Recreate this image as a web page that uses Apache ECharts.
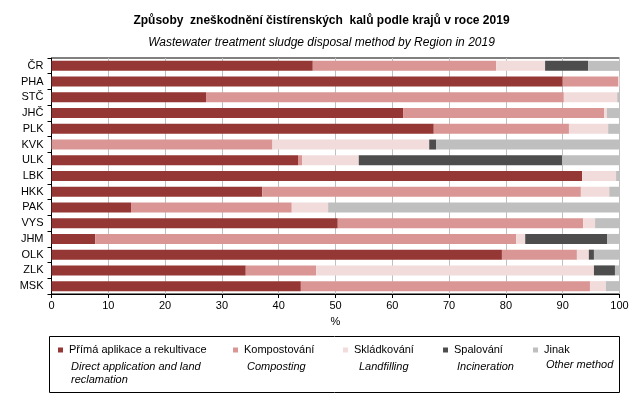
<!DOCTYPE html>
<html>
<head>
<meta charset="utf-8">
<script src="https://cdn.jsdelivr.net/npm/echarts@6/dist/echarts.min.js"></script>
<style>
  html, body { margin: 0; padding: 0; background: #fff; }
  #chart { width: 643px; height: 397px; }
</style>
</head>
<body>
<div id="chart"></div>
<script>
// kraje (regions), top to bottom
var regions = ['ČR', 'PHA', 'STČ', 'JHČ', 'PLK', 'KVK', 'ULK', 'LBK', 'HKK', 'PAK', 'VYS', 'JHM', 'OLK', 'ZLK', 'MSK'];

// shares in %
var direct      = [46.0, 90.0, 27.2, 61.9, 67.3,  0.0, 43.4, 93.4, 37.1, 14.0, 50.4,  7.7, 79.3, 34.2, 43.9];
var composting  = [32.3,  9.8, 63.0, 35.4, 23.8, 38.9,  0.7,  0.0, 56.1, 28.3, 43.2, 74.1, 13.2, 12.4, 50.9];
var landfilling = [ 8.6,  0.2,  9.4,  0.5,  6.9, 27.6, 10.0,  6.0,  5.0,  6.4,  2.1,  1.6,  2.1, 48.9,  2.8];
var incineration= [ 7.6,  0.0,  0.0,  0.0,  0.0,  1.2, 35.8,  0.0,  0.0,  0.0,  0.0, 14.4,  0.9,  3.7,  0.0];
var other       = [ 5.5,  0.0,  0.4,  2.2,  2.0, 32.3, 10.1,  0.6,  1.8, 51.3,  4.3,  2.2,  4.5,  0.8,  2.4];

var xTicks = [0, 10, 20, 30, 40, 50, 60, 70, 80, 90, 100];

var namesCz = ['Přímá aplikace a rekultivace', 'Kompostování', 'Skládkování', 'Spalování', 'Jinak'];
var namesEn = ['Direct application and land\nreclamation', 'Composting', 'Landfilling', 'Incineration', 'Other method'];
var colors = ['#953735', '#D99694', '#F2DCDB', '#4D4D4D', '#BFBFBF'];

var values = [direct, composting, landfilling, incineration, other];

var font = '"Liberation Sans", Arial, sans-serif';

var myChart = echarts.init(document.getElementById('chart'), null, {renderer: 'canvas'});

// legend positions (marker left edge) and english caption positions
var legLeft = [58, 233, 343, 443, 533];
var enLeft = [71, 247, 359, 457, 546];
var enTop = [360, 360, 360, 360, 358];

var legends = [];
var series = [];
var graphics = [];
for (var i = 0; i < namesCz.length; i++) {
    legends.push({
        data: [namesCz[i]],
        left: legLeft[i],
        top: 344,
        padding: 0,
        icon: 'rect',
        itemWidth: 5,
        itemHeight: 5,
        selectedMode: false,
        textStyle: {
            fontFamily: font,
            fontSize: 11,
            color: '#000',
            lineHeight: 12,
            padding: [0, 0, 0, 1]
        }
    });
    series.push({
        name: namesCz[i],
        type: 'bar',
        stack: 'total',
        barWidth: 10,
        data: values[i],
        itemStyle: {color: colors[i]},
        emphasis: {disabled: true},
        animation: false
    });
    graphics.push({
        type: 'text',
        left: enLeft[i],
        top: enTop[i],
        style: {
            text: namesEn[i],
            font: 'italic 11px ' + font,
            fill: '#000',
            lineHeight: 13
        }
    });
}

// legend frame
graphics.push({
    type: 'rect',
    shape: {x: 49.5, y: 336.5, width: 570, height: 56},
    style: {fill: 'none', stroke: '#000', lineWidth: 1},
    z: -1
});

var option = {
    backgroundColor: '#fff',
    animation: false,
    color: colors,
    title: [{
        text: 'Způsoby  zneškodnění čistírenských  kalů podle krajů v roce 2019',
        left: 'center',
        top: 10,
        textStyle: {
            fontFamily: font,
            fontSize: 12,
            fontWeight: 'bold',
            color: '#000'
        }
    }, {
        text: 'Wastewater treatment sludge disposal method by Region in 2019',
        left: 'center',
        top: 32,
        textStyle: {
            fontFamily: font,
            fontSize: 12,
            fontStyle: 'italic',
            fontWeight: 'normal',
            color: '#000'
        }
    }],
    legend: legends,
    grid: {
        left: 51.5,
        right: 23.5,
        top: 58,
        bottom: 103,
        show: true,
        borderColor: '#000',
        borderWidth: 1,
        backgroundColor: 'transparent'
    },
    xAxis: {
        type: 'value',
        min: xTicks[0],
        max: xTicks[xTicks.length - 1],
        interval: 10,
        name: '%',
        nameLocation: 'middle',
        nameGap: 22,
        nameTextStyle: {fontFamily: font, fontSize: 11, color: '#000'},
        axisLine: {show: true, lineStyle: {color: '#000', width: 1}},
        axisTick: {show: true, length: 4, lineStyle: {color: '#000'}},
        axisLabel: {fontFamily: font, fontSize: 11, color: '#000', margin: 6},
        splitLine: {show: true, lineStyle: {color: '#BFBFBF', width: 1}}
    },
    yAxis: {
        type: 'category',
        inverse: true,
        data: regions,
        axisLine: {show: true, lineStyle: {color: '#000', width: 1}},
        axisTick: {show: true, length: 4, lineStyle: {color: '#000'}},
        axisLabel: {fontFamily: font, fontSize: 11, color: '#000', margin: 8},
        splitLine: {show: false}
    },
    graphic: graphics,
    series: series
};

myChart.setOption(option);
</script>
</body>
</html>
